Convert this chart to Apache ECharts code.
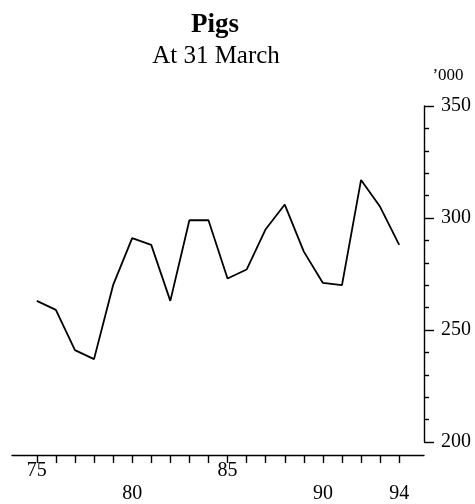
<!DOCTYPE html>
<html>
<head>
<meta charset="utf-8">
<script src="https://cdn.jsdelivr.net/npm/echarts@6/dist/echarts.min.js"></script>
<style>html,body{margin:0;padding:0;background:#fff;}#c{width:475px;height:504px;}</style>
</head>
<body>
<div id="c"></div>
<script>
var years = [75,76,77,78,79,80,81,82,83,84,85,86,87,88,89,90,91,92,93,94];
var pigs = [263,259,241,237,270,291,288,263,299,299,273,277,295,306,285,271,270,317,305,288];
var upperLabels = [75,85];
var lowerLabels = [80,90,94];
var titleText = 'Pigs';
var subtitleText = 'At 31 March';
var unitText = "\u2019000";

var FONT = '"Liberation Serif","Times New Roman",serif';
var chart = echarts.init(document.getElementById('c'), null, {renderer:'canvas'});
chart.setOption({
  backgroundColor:'#fff',
  animation:false,
  graphic:[
    {type:'text', x:215, y:25, style:{text:titleText, font:'bold 27px '+FONT, fill:'#000', align:'center', verticalAlign:'middle'}},
    {type:'text', x:216, y:56, style:{text:subtitleText, font:'25px '+FONT, fill:'#000', align:'center', verticalAlign:'middle'}},
    {type:'text', x:448, y:76, style:{text:unitText, font:'17px '+FONT, fill:'#000', align:'center', verticalAlign:'middle'}}
  ],
  grid:{left:12, right:51, top:106, bottom:62, containLabel:false},
  xAxis:[{
    type:'value', min:73.7, max:95.3, position:'bottom', offset:13,
    axisLine:{show:true, lineStyle:{color:'#000', width:1.4}},
    axisTick:{show:true, customValues:years, length:8, inside:false, lineStyle:{color:'#000', width:1.4}},
    axisLabel:{show:true, customValues:upperLabels, margin:6, color:'#000', fontFamily:FONT, fontSize:20},
    splitLine:{show:false}
  },{
    type:'value', min:73.7, max:95.3, position:'bottom', offset:13,
    axisLine:{show:false}, axisTick:{show:false},
    axisLabel:{show:true, customValues:lowerLabels, margin:29, color:'#000', fontFamily:FONT, fontSize:20},
    splitLine:{show:false}
  }],
  yAxis:{
    type:'value', position:'right', min:200, max:350, interval:50,
    axisLine:{show:true, lineStyle:{color:'#000', width:1.4}},
    axisTick:{show:true, length:10, lineStyle:{color:'#000', width:1.4}},
    minorTick:{show:true, splitNumber:5, length:5, lineStyle:{color:'#000', width:1.4}},
    axisLabel:{margin:17, color:'#000', fontFamily:FONT, fontSize:20},
    splitLine:{show:false}, minorSplitLine:{show:false}
  },
  series:[{
    type:'line', xAxisIndex:0,
    data: years.map(function(y,i){return [y, pigs[i]];}),
    showSymbol:false, symbol:'none',
    lineStyle:{color:'#000', width:1.8}
  }]
});
</script>
</body>
</html>
